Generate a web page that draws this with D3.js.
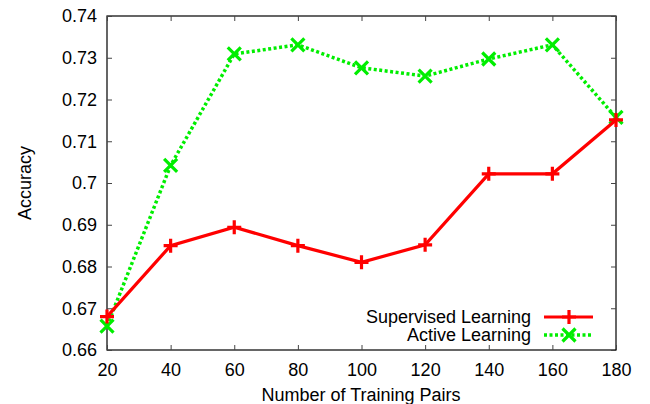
<!DOCTYPE html>
<html>
<head>
<meta charset="utf-8">
<script src="https://cdn.jsdelivr.net/npm/d3@7"></script>
<style>
  body { margin: 0; background: #fff; }
  svg text { font-family: "Liberation Sans", Arial, sans-serif; fill: #000; }
</style>
</head>
<body>
<svg width="650" height="404"></svg>
<script>
// data
var pairs = [20, 40, 60, 80, 100, 120, 140, 160, 180];
var supervised = [0.668, 0.685, 0.6894, 0.685, 0.681, 0.6852, 0.7022, 0.7022, 0.7151];
var active = [0.6657, 0.7042, 0.7309, 0.7331, 0.7276, 0.7256, 0.7297, 0.7331, 0.7157];
var yTicks = [0.66, 0.67, 0.68, 0.69, 0.7, 0.71, 0.72, 0.73, 0.74];
var seriesNames = ["Supervised Learning", "Active Learning"];

var svg = d3.select("svg");
var pLeft = 107, pRight = 616, pTop = 16, pBottom = 350;
var fs = "18px";

var x = d3.scaleLinear().domain([20, 180]).range([pLeft, pRight]);
var y = d3.scaleLinear().domain([0.66, 0.74]).range([pBottom, pTop]);

// frame
svg.append("rect")
  .attr("x", pLeft).attr("y", pTop)
  .attr("width", pRight - pLeft).attr("height", pBottom - pTop)
  .attr("fill", "none").attr("stroke", "#000").attr("stroke-width", 1.2);

// axes, ticks pointing inwards
var xAxis = svg.append("g").attr("transform", "translate(0," + pBottom + ")")
  .call(d3.axisBottom(x).tickValues(pairs).tickSize(-5).tickPadding(13).tickFormat(d3.format("d")));
var xTop = svg.append("g").attr("transform", "translate(0," + pTop + ")")
  .call(d3.axisTop(x).tickValues(pairs).tickSize(-5).tickFormat(""));
var yAxis = svg.append("g").attr("transform", "translate(" + pLeft + ",0)")
  .call(d3.axisLeft(y).tickValues(yTicks).tickSize(-5).tickPadding(10).tickFormat(function(d) { return +d.toFixed(2) + ""; }));
var yRight = svg.append("g").attr("transform", "translate(" + pRight + ",0)")
  .call(d3.axisRight(y).tickValues(yTicks).tickSize(-5).tickFormat(""));

[xAxis, xTop, yAxis, yRight].forEach(function(g) {
  g.select(".domain").remove();
  g.selectAll(".tick line").attr("stroke", "#444").attr("stroke-width", 1);
  g.selectAll("text").style("font-size", fs).style("font-family", "Liberation Sans, Arial, sans-serif");
});

// axis titles
svg.append("text")
  .attr("x", 361).attr("y", 401)
  .attr("text-anchor", "middle").style("font-size", fs)
  .text("Number of Training Pairs");
svg.append("text")
  .attr("transform", "translate(31," + (pTop + pBottom) / 2 + ") rotate(-90)")
  .attr("text-anchor", "middle").style("font-size", fs)
  .text("Accuracy");

var line = d3.line()
  .x(function(d, i) { return x(pairs[i]); })
  .y(function(d) { return y(d); });

var red = "#ff0000", green = "#00ee00";

function plusPath(cx, cy, s) {
  return "M" + (cx - s) + "," + cy + "H" + (cx + s) + "M" + cx + "," + (cy - s) + "V" + (cy + s);
}
function crossPath(cx, cy, s) {
  return "M" + (cx - s) + "," + (cy - s) + "L" + (cx + s) + "," + (cy + s) +
         "M" + (cx - s) + "," + (cy + s) + "L" + (cx + s) + "," + (cy - s);
}

// active learning (green dotted, x markers)
svg.append("path").datum(active)
  .attr("d", line).attr("fill", "none")
  .attr("stroke", green).attr("stroke-width", 3.5).attr("stroke-dasharray", "3,2.5");
svg.selectAll(".xm").data(active).enter().append("path")
  .attr("class", "xm")
  .attr("d", function(d, i) { return crossPath(x(pairs[i]), y(d), 6.5); })
  .attr("stroke", green).attr("stroke-width", 3.2).attr("fill", "none");

// supervised (red solid, + markers)
svg.append("path").datum(supervised)
  .attr("d", line).attr("fill", "none")
  .attr("stroke", red).attr("stroke-width", 3.2);
svg.selectAll(".pm").data(supervised).enter().append("path")
  .attr("class", "pm")
  .attr("d", function(d, i) { return plusPath(x(pairs[i]), y(d), 7); })
  .attr("stroke", red).attr("stroke-width", 3.2).attr("fill", "none");

// legend
var legY = [317, 335];
seriesNames.forEach(function(name, i) {
  svg.append("text")
    .attr("x", 531).attr("y", legY[i] + 6)
    .attr("text-anchor", "end").style("font-size", fs)
    .text(name);
  var col = i === 0 ? red : green;
  svg.append("line")
    .attr("x1", 544).attr("x2", 593).attr("y1", legY[i]).attr("y2", legY[i])
    .attr("stroke", col).attr("stroke-width", i === 0 ? 3.2 : 3.5)
    .attr("stroke-dasharray", i === 0 ? null : "3,2.5");
  svg.append("path")
    .attr("d", i === 0 ? plusPath(569, legY[i], 7) : crossPath(569, legY[i], 6.5))
    .attr("stroke", col).attr("stroke-width", 3.2).attr("fill", "none");
});
</script>
</body>
</html>
